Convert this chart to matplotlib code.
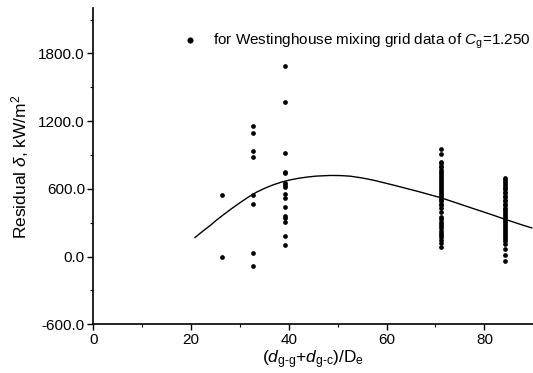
import numpy as np
import matplotlib
matplotlib.use("Agg")
import matplotlib.pyplot as plt
from matplotlib.ticker import MultipleLocator, FormatStrFormatter

plt.rcParams['font.family'] = ['Liberation Sans', 'DejaVu Sans']
plt.rcParams['mathtext.fontset'] = 'custom'
plt.rcParams['mathtext.rm'] = 'Liberation Sans'
plt.rcParams['mathtext.it'] = 'Liberation Sans:italic'

# residual data, one column of points per spacing ratio
x_cols = [26.4, 32.7, 39.3, 71.1, 84.2]
res_26 = [545, 0]
res_33 = [1157, 1092, 935, 879, 550, 467, 35, -80]
res_39 = [1692, 1367, 920, 751, 737, 655, 635, 615, 555, 520, 440, 360,
          340, 305, 185, 105]
res_71 = [955, 905, 840, 825, 805, 790, 770, 750, 730, 715, 700, 680, 660,
          645, 625, 610, 590, 575, 555, 540, 520, 505, 490, 470, 455, 430,
          395, 350, 330, 310, 290, 270, 250, 230, 210, 190, 170, 145, 120, 85]
res_84 = [700, 680, 665, 645, 630, 610, 595, 575, 560, 540, 525, 505, 490,
          470, 455, 435, 420, 400, 385, 365, 350, 330, 315, 295, 280, 260,
          245, 225, 210, 190, 175, 155, 140, 115, 70, 10, -40]
residuals = [res_26, res_33, res_39, res_71, res_84]

# fitted curve
fit_x = [20.8, 22.3, 23.9, 25.2, 26.6, 28.3, 30.0, 31.7, 33.4, 35.1, 36.8,
         38.5, 40.2, 42.0, 43.6, 45.5, 48.4, 50.5, 52.5, 55.0, 57.3, 59.6,
         62.0, 64.4, 66.8, 68.8, 70.9, 73.3, 75.7, 77.7, 79.8, 81.8, 83.8,
         85.8, 87.9, 89.7]
fit_y = [169, 222, 275, 323, 370, 425, 477, 527, 571, 606, 636,
         660, 679, 694, 704, 713, 719, 718, 713, 697, 677, 653,
         627, 600, 573, 549, 524, 490, 455, 426, 396, 367, 337,
         308, 278, 254]

fig = plt.figure(figsize=(5.33, 3.73), dpi=100)
ax = fig.add_axes([0.175, 0.1306, 0.8255, 0.847])

xs = []
ys = []
for i in range(len(x_cols)):
    xs += [x_cols[i]] * len(residuals[i])
    ys += residuals[i]
ax.plot(xs, ys, 'o', color='black', ms=3.4, mew=0, ls='none',
        label=r'for Westinghouse mixing grid data of $C_{\rm g}$=1.250')
ax.plot(fit_x, fit_y, color='black', lw=1.0)

ax.set_xlim(0, 90)
ax.set_ylim(-600, 2200)
ax.xaxis.set_major_locator(MultipleLocator(20))
ax.xaxis.set_minor_locator(MultipleLocator(10))
ax.yaxis.set_major_locator(MultipleLocator(600))
ax.yaxis.set_minor_locator(MultipleLocator(300))
ax.yaxis.set_major_formatter(FormatStrFormatter('%.1f'))

for s in ['top', 'right']:
    ax.spines[s].set_visible(False)
for s in ['left', 'bottom']:
    ax.spines[s].set_linewidth(1.2)
ax.tick_params(which='major', direction='out', length=4, width=1.0,
               labelsize=11, pad=2)
ax.tick_params(which='minor', direction='out', length=2, width=0.8)

ax.set_ylabel(r'Residual $\delta$, kW/m$^2$', fontsize=12.5, labelpad=5)
ax.set_xlabel(r'$(\mathit{d}_{\rm g\text{-}g}$+$\mathit{d}_{\rm g\text{-}c})$/D$_{\rm e}$',
              fontsize=12.5, labelpad=1)

ax.legend(loc='upper left', bbox_to_anchor=(0.328, 0.914),
          bbox_transform=fig.transFigure, frameon=False, borderpad=0,
          borderaxespad=0, fontsize=11, handletextpad=0.5, markerscale=1.3)

plt.savefig('out.png', dpi=100)
